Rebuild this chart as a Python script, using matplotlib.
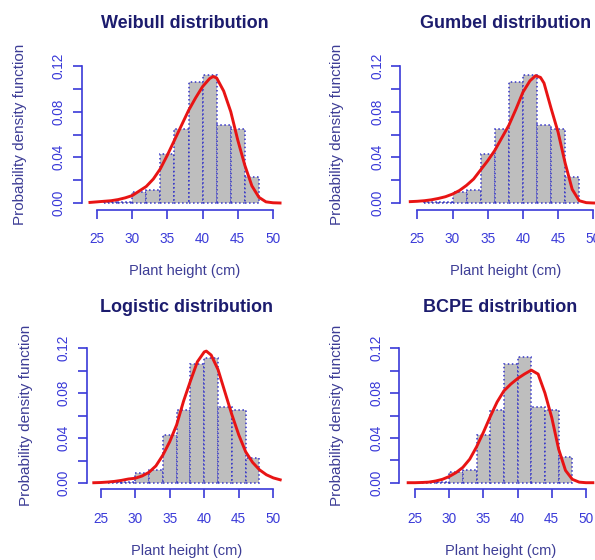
import numpy as np
import matplotlib.pyplot as plt

plt.rcParams['font.family'] = ['Liberation Sans', 'DejaVu Sans']

# histogram of plant height (density scale, 2 cm bins)
bin_left = [26, 28, 30, 32, 34, 36, 38, 40, 42, 44, 46]
density = [0.001, 0.001, 0.0093, 0.0117, 0.0425, 0.065, 0.1057, 0.1118, 0.068, 0.065, 0.0228]

# fitted densities
weibull_x = [24, 25, 26, 27, 28, 29, 30, 31, 32, 33, 34, 35, 36, 37, 38, 39, 40, 41, 41.5, 42, 43, 44, 45, 46, 47, 48, 49, 50, 51]
weibull_y = [0.0005, 0.001, 0.0015, 0.002, 0.003, 0.0045, 0.0065, 0.0105, 0.0145, 0.021, 0.030, 0.042, 0.055, 0.068,
             0.081, 0.092, 0.102, 0.109, 0.1108, 0.1095, 0.098, 0.080, 0.055, 0.033, 0.015, 0.005, 0.001, 0.0002, 0.0]

gumbel_x = [24, 25, 26, 27, 28, 29, 30, 31, 32, 33, 34, 35, 36, 37, 38, 39, 40, 41, 41.8, 42.5, 43, 44, 45, 46, 47, 48, 49, 50, 51]
gumbel_y = [0.0012, 0.0015, 0.002, 0.0028, 0.004, 0.0055, 0.0078, 0.011, 0.0155, 0.021, 0.029, 0.037, 0.046, 0.057,
            0.068, 0.082, 0.097, 0.107, 0.1115, 0.110, 0.105, 0.083, 0.062, 0.035, 0.012, 0.002, 0.0003, 0.0, 0.0]

logistic_x = [24, 25, 26, 27, 28, 29, 30, 31, 32, 33, 34, 35, 36, 37, 38, 39, 40, 40.3, 41, 42, 43, 44, 45, 46, 47, 48, 49, 50, 51]
logistic_y = [0.0005, 0.0007, 0.0011, 0.0017, 0.0026, 0.0038, 0.0045, 0.0065, 0.0098, 0.0155, 0.025, 0.037, 0.052, 0.073,
              0.091, 0.108, 0.1168, 0.1175, 0.114, 0.101, 0.081, 0.061, 0.043, 0.028, 0.0186, 0.012, 0.0076, 0.0048, 0.0031]

bcpe_x = [24, 25, 26, 27, 28, 29, 30, 31, 32, 33, 34, 35, 36, 37, 38, 39, 40, 41, 42, 43, 44, 45, 46, 47, 48, 49, 50, 51]
bcpe_y = [0.0, 0.0, 0.0002, 0.0005, 0.0015, 0.003, 0.0055, 0.009, 0.0137, 0.021, 0.032, 0.045, 0.059, 0.072,
          0.082, 0.088, 0.093, 0.097, 0.1005, 0.097, 0.080, 0.058, 0.030, 0.011, 0.003, 0.0005, 0.0, 0.0]

titles = ["Weibull distribution", "Gumbel distribution", "Logistic distribution", "BCPE distribution"]
curves = [(weibull_x, weibull_y), (gumbel_x, gumbel_y), (logistic_x, logistic_y), (bcpe_x, bcpe_y)]

xticks = [25, 30, 35, 40, 45, 50]
yticks = [0.0, 0.02, 0.04, 0.06, 0.08, 0.10, 0.12]
ytick_labels = ["0.00", "", "0.04", "", "0.08", "", "0.12"]

blue = "#3a3ad8"
navy = "#1c1c6e"
labcol = "#3d3d96"

W, H = 595, 560
fig = plt.figure(figsize=(W / 100, H / 100), dpi=100)

# pixel layout: y-axis line x, x=25 px, x=50 px, y=0 px, y=0.12 px, x-axis line y
frames = [(81.7, 97.0, 273.0, 203.0, 66.0, 209.5),
          (400.0, 417.3, 593.3, 203.0, 66.0, 209.5),
          (86.7, 100.7, 273.3, 483.3, 348.3, 489.0),
          (399.0, 415.0, 586.0, 482.7, 348.3, 489.0)]
ylab_x = [20, 337.5, 26, 337.5]
title_y = [23.5, 23.0, 307.5, 308.0]
xlab_y = [271, 271, 551, 551]

for i in range(4):
    axis_x, x25, x50, y0, y12, axis_y = frames[i]
    sx = (x50 - x25) / 25
    sy = (y0 - y12) / 0.12
    gx = x25 - axis_x
    gy = axis_y - y0
    left, right = axis_x, x50 + gx
    top, bottom = y12 - gy, axis_y
    ax = fig.add_axes([left / W, 1 - bottom / H, (right - left) / W, (bottom - top) / H])
    ax.set_xlim(25 - gx / sx, 50 + gx / sx)
    ax.set_ylim(-gy / sy, 0.12 + gy / sy)
    ax.patch.set_alpha(0)

    ax.bar(bin_left, density, width=2, align="edge", color="#bebebe",
           edgecolor="#3434c8", linestyle=":", linewidth=1.1)
    cx, cy = curves[i]
    ax.plot(cx, cy, color="#e81414", lw=2.1, solid_joinstyle="round")

    for s in ["top", "right"]:
        ax.spines[s].set_visible(False)
    ax.spines["left"].set_bounds(0, 0.12)
    ax.spines["bottom"].set_bounds(25, 50)
    for s in ["left", "bottom"]:
        ax.spines[s].set_color(blue)
        ax.spines[s].set_linewidth(1.2)

    ax.set_xticks(xticks)
    ax.set_xticklabels([str(t) for t in xticks])
    ax.set_yticks(yticks)
    ax.set_yticklabels(ytick_labels)
    ax.tick_params(axis="both", colors=blue, labelcolor=blue, length=6.5, width=1.2, labelsize=9.8)
    ax.tick_params(axis="x", pad=10)
    ax.tick_params(axis="y", pad=5)
    plt.setp(ax.get_yticklabels(), rotation=90, va="center")

    cxp = (left + right) / 2
    fig.text(cxp / W, 1 - title_y[i] / H, titles[i], ha="center", va="center",
             fontsize=13, fontweight="bold", color=navy)
    fig.text(ylab_x[i] / W, 1 - (y0 + y12) / 2 / H, "Probability density function", rotation=90,
             ha="center", va="center", fontsize=11, color=labcol)
    fig.text(((x25 + x50) / 2) / W, 1 - xlab_y[i] / H, "Plant height (cm)", ha="center", va="center",
             fontsize=10.5, color=labcol)

fig.savefig("out.png", dpi=100)
